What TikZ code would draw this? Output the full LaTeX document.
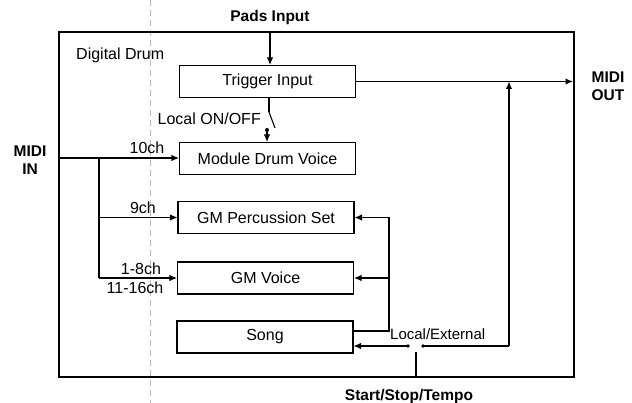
\documentclass[tikz,border=0pt]{standalone}
\usepackage{fontspec}
\setmainfont{Liberation Sans}
\usetikzlibrary{arrows.meta}
\begin{document}
\begin{tikzpicture}[x=1pt,y=-1pt,
  blk/.style={draw,line width=1.1pt,minimum width=176pt,minimum height=32pt,inner sep=0pt,font=\fontsize{16}{18}\selectfont},
  lbl/.style={inner sep=0pt,font=\fontsize{16}{18}\selectfont},
  sml/.style={inner sep=0pt,font=\fontsize{15}{17}\selectfont},
  bld/.style={inner sep=0pt,align=center,font=\fontsize{15.5}{18}\selectfont\bfseries},
  wire/.style={line width=1.1pt},
  arr/.style={line width=1.1pt,-{Latex[length=7.5pt,width=6.5pt]}},
  frame/.style={draw,line width=1.7pt}]
\useasboundingbox (0,0) rectangle (632,403);
% faint scan fold line
\draw[gray!55,line width=0.8pt,dash pattern=on 6pt off 4pt] (150,0) -- (150,403);
% outer frame
\draw[frame] (59,32) rectangle (574,377);
\node[lbl,anchor=west] (dd) at (76,55) {Digital Drum};
% blocks
\node[blk] (trig) at (267.5,81.5) {Trigger Input};
\node[blk] (mdv) at (267.5,158.5) {Module Drum Voice};
\node[blk] (gmp) at (266,217.5) {GM Percussion Set};
\node[blk] (gmv) at (265.5,278) {GM Voice};
\node[blk] (song) at (265,337) {Song};
% labels
\node[bld] (pads) at (270,17) {Pads Input};
\node[bld] (midiin) at (30,160) {MIDI\\IN};
\node[bld] (midiout) at (608,86) {MIDI\\OUT};
\node[bld] (sst) at (409,396) {Start/Stop/Tempo};
\node[lbl,anchor=east] (lonoff) at (261,119) {Local ON/OFF};
\node[sml,anchor=west] (lext) at (390,334) {Local/External};
\node[lbl,anchor=south] (c10) at (147,154) {10ch};
\node[lbl,anchor=south] (c9) at (143,214) {9ch};
\node[lbl,anchor=south] (c18) at (141,275) {1-8ch};
\node[lbl,anchor=north] (c1116) at (135,282) {11-16ch};
% coordinates
\coordinate (padsTop) at (270,32);
\coordinate (outR) at (573,83);
\coordinate (inL) at (60,158);
\coordinate (br) at (99,158);
\coordinate (swA) at (269,112);
\coordinate (swB) at (275,128);
\coordinate (swDot) at (267,130);
\coordinate (fbX) at (389,331);
\coordinate (dotL) at (408,346);
\coordinate (dotR) at (423,346);
\coordinate (upX) at (509,346);
\coordinate (sstTop) at (416,352);
\coordinate (sstBot) at (416,377);
% connectors
\draw[arr] (padsTop) -- (trig.north -| padsTop);
\draw[arr] (trig.east) -- (trig.east -| outR);
\draw[arr] (upX) -- (upX |- trig.east);
\draw[wire] (dotR) -- (upX);
\draw[arr] (dotL) -- (dotL -| song.east);
\fill (dotL) circle (1.8pt);
\fill (dotR) circle (1.8pt);
\draw[wire] (sstTop) -- (sstBot);
% local on/off switch
\draw[wire] (trig.south -| swA) -- (swA);
\draw[wire] (swA) -- (swB);
\fill (swDot) circle (2pt);
\draw[arr] (swDot) -- (swDot |- mdv.north);
% midi in branches
\draw[arr] (inL) -- (mdv.west |- inL);
\draw[wire] (br) -- (br |- gmv.west);
\draw[arr] (br |- gmp.west) -- (gmp.west);
\draw[arr] (br |- gmv.west) -- (gmv.west);
% song feedback
\draw[wire] (song.east |- fbX) -- (fbX) -- (fbX |- gmp.east);
\draw[arr] (fbX |- gmp.east) -- (gmp.east);
\draw[arr] (fbX |- gmv.east) -- (gmv.east);
\end{tikzpicture}
\end{document}
